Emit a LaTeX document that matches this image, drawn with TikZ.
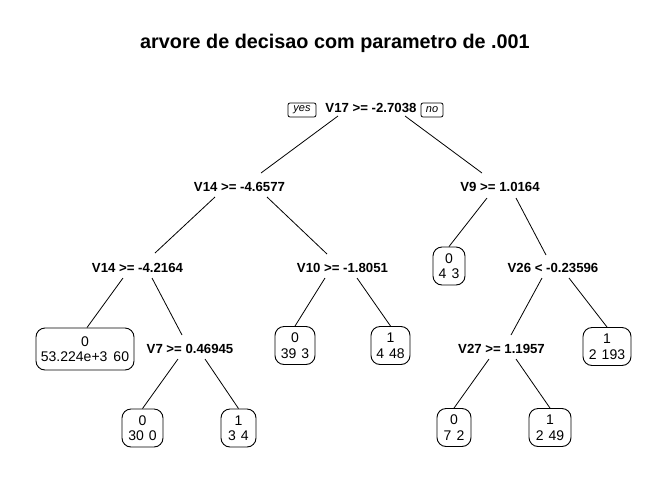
\documentclass[tikz,border=0pt]{standalone}
\usepackage{fontspec}
\setmainfont{Liberation Sans}
\begin{document}
\begin{tikzpicture}[x=1pt,y=-1pt,
  split/.style={font=\fontsize{13.2}{15}\selectfont\bfseries, inner sep=0pt},
  leaf/.style={draw, line width=0.9pt, rounded corners=9pt, align=center,
    font=\fontsize{14}{15.5}\selectfont, inner sep=0pt, minimum height=38pt},
  tag/.style={draw, line width=0.8pt, rounded corners=2pt, inner sep=0pt,
    font=\fontsize{11}{12}\selectfont\itshape, minimum height=14pt},
  br/.style={line width=0.8pt}]
\useasboundingbox (0,0) rectangle (672,480);
\fill[white] (0,0) rectangle (672,480);
\node[font=\fontsize{19.8}{22}\selectfont\bfseries] (title) at (335,43) {arvore de decisao com parametro de .001};
% splits
\node[split] (root) at (371,108) {V17 >= -2.7038};
\node[tag, minimum width=28pt] (yes) at (302,110) {yes};
\node[tag, minimum width=22pt] (no) at (432,110) {no};
\node[split] (v14a) at (239.5,187) {V14 >= -4.6577};
\node[split] (v9) at (500,187) {V9 >= 1.0164};
\node[split] (v14b) at (137.5,268) {V14 >= -4.2164};
\node[split] (v10) at (342.5,268) {V10 >= -1.8051};
\node[split] (v26) at (553,268) {V26 < -0.23596};
\node[split] (v7) at (190,349) {V7 >= 0.46945};
\node[split] (v27) at (501.5,349) {V27 >= 1.1957};
% leaves
\node[leaf, minimum width=98pt, minimum height=42pt] (l1) at (85,349) {0\\53.224e+3\hspace{6pt}60};
\node[leaf, minimum width=41pt] (l2) at (142.5,428) {0\\30\hspace{5pt}0};
\node[leaf, minimum width=35pt] (l3) at (238.5,428) {1\\3\hspace{5pt}4};
\node[leaf, minimum width=40pt] (l4) at (295,345.5) {0\\39\hspace{5pt}3};
\node[leaf, minimum width=39pt] (l5) at (390.5,345.5) {1\\4\hspace{5pt}48};
\node[leaf, minimum width=32pt] (l6) at (449,266) {0\\4\hspace{5pt}3};
\node[leaf, minimum width=48pt] (l7) at (607,346.5) {1\\2\hspace{5pt}193};
\node[leaf, minimum width=34pt] (l8) at (454,427.5) {0\\7\hspace{5pt}2};
\node[leaf, minimum width=42pt] (l9) at (550,427.5) {1\\2\hspace{5pt}49};
% branches
\draw[br] ([shift={(-33,8)}]root.center) -- ([shift={(21.5,-14)}]v14a.center);
\draw[br] ([shift={(34,8)}]root.center) -- ([shift={(-18,-14)}]v9.center);
\draw[br] ([shift={(-24.5,10)}]v14a.center) -- ([shift={(17.5,-15)}]v14b.center);
\draw[br] ([shift={(27.5,10)}]v14a.center) -- ([shift={(-15.5,-14)}]v10.center);
\draw[br] ([shift={(-14.5,10)}]v14b.center) -- ([xshift=2pt]l1.north);
\draw[br] ([shift={(14.5,10)}]v14b.center) -- ([shift={(-8,-14)}]v7.center);
\draw[br] ([shift={(-17.5,10)}]v10.center) -- (l4.north);
\draw[br] ([shift={(14.5,10)}]v10.center) -- (l5.north);
\draw[br] ([shift={(-12,10)}]v7.center) -- (l2.north);
\draw[br] ([shift={(15,10)}]v7.center) -- (l3.north);
\draw[br] ([shift={(-13,11)}]v9.center) -- (l6.north);
\draw[br] ([shift={(16,11)}]v9.center) -- ([shift={(-7,-13)}]v26.center);
\draw[br] ([shift={(-11,10)}]v26.center) -- ([shift={(9.5,-14)}]v27.center);
\draw[br] ([shift={(16,10)}]v26.center) -- (l7.north);
\draw[br] ([shift={(-12.5,10)}]v27.center) -- (l8.north);
\draw[br] ([shift={(14.5,10)}]v27.center) -- (l9.north);
\end{tikzpicture}
\end{document}
